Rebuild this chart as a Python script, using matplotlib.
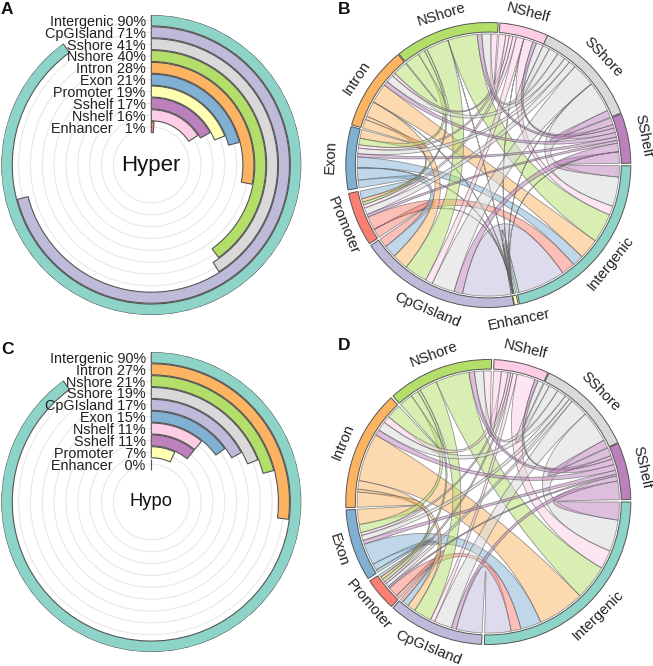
import numpy as np
import matplotlib
matplotlib.use("Agg")
import matplotlib.pyplot as plt
from matplotlib.path import Path
from matplotlib.patches import PathPatch, Wedge

plt.rcParams["font.family"] = ["Liberation Sans", "DejaVu Sans"]

W, H = 653, 666

bar_colors = {"Intergenic": "#8DD3C7", "CpGIsland": "#BEBADA", "Sshore": "#D9D9D9", "Nshore": "#B3DE69",
              "Intron": "#FDB462", "Exon": "#80B1D3", "Promoter": "#FFFFB3", "Sshelf": "#BC80BD",
              "Nshelf": "#FCCDE5", "Enhancer": "#FB8072"}
chord_colors = {"Intergenic": "#8DD3C7", "CpGIsland": "#BEBADA", "SShore": "#D9D9D9", "NShore": "#B3DE69",
                "Intron": "#FDB462", "Exon": "#80B1D3", "Promoter": "#FB8072", "SShelf": "#BC80BD",
                "NShelf": "#FCCDE5", "Enhancer": "#FFFFB3"}

# bar panels
names_a = ["Intergenic", "CpGIsland", "Sshore", "Nshore", "Intron", "Exon", "Promoter", "Sshelf", "Nshelf", "Enhancer"]
values_a = [90, 71, 41, 40, 28, 21, 19, 17, 16, 1]
names_c = ["Intergenic", "Intron", "Nshore", "Sshore", "CpGIsland", "Exon", "Nshelf", "Sshelf", "Promoter", "Enhancer"]
values_c = [90, 27, 21, 19, 17, 15, 11, 11, 7, 0]

# chord panels, sectors listed clockwise: name, start angle, span (degrees)
sectors_b = [("NShelf", 85.3, 20.0), ("SShore", 65.4, 44.0), ("SShelf", 21.0, 20.3), ("Intergenic", -0.3, 77.0),
             ("Enhancer", -77.9, 1.5), ("CpGIsland", -79.7, 65.9), ("Promoter", -146.5, 22.0),
             ("Exon", -169.9, 25.8), ("Intron", 163.6, 34.4), ("NShore", 128.8, 42.8)]
links_b = [("Intergenic", "Enhancer", 0.9), ("Intergenic", "CpGIsland", 21), ("Intergenic", "Promoter", 6),
           ("Intergenic", "Exon", 5), ("Intergenic", "Intron", 9), ("Intergenic", "NShore", 13),
           ("Intergenic", "NShelf", 4), ("Intergenic", "SShore", 13), ("Intergenic", "SShelf", 5),
           ("Enhancer", "CpGIsland", 0.2), ("Enhancer", "Promoter", 0.05), ("Enhancer", "Exon", 0.05),
           ("Enhancer", "Intron", 0.05), ("Enhancer", "NShore", 0.05), ("Enhancer", "NShelf", 0.05),
           ("Enhancer", "SShore", 0.05), ("Enhancer", "SShelf", 0.05),
           ("CpGIsland", "Promoter", 4), ("CpGIsland", "Exon", 5.5), ("CpGIsland", "Intron", 7),
           ("CpGIsland", "NShore", 10), ("CpGIsland", "NShelf", 3.2), ("CpGIsland", "SShore", 10),
           ("CpGIsland", "SShelf", 3.7),
           ("Promoter", "Exon", 3.5), ("Promoter", "Intron", 1.5), ("Promoter", "NShore", 1.2),
           ("Promoter", "NShelf", 1.5), ("Promoter", "SShore", 3), ("Promoter", "SShelf", 1.2),
           ("Exon", "Intron", 4), ("Exon", "NShore", 3), ("Exon", "NShelf", 1.5), ("Exon", "SShore", 2.5),
           ("Exon", "SShelf", 1.5),
           ("Intron", "NShore", 6.5), ("Intron", "NShelf", 1.5), ("Intron", "SShore", 3.5), ("Intron", "SShelf", 2),
           ("NShore", "NShelf", 2.8), ("NShore", "SShore", 4), ("NShore", "SShelf", 2),
           ("NShelf", "SShore", 3), ("NShelf", "SShelf", 1.5), ("SShore", "SShelf", 3)]

sectors_d = [("NShelf", 87.7, 22.5), ("SShore", 64.8, 40.2), ("SShelf", 24.3, 23.3), ("Intergenic", 0.0, 91.6),
             ("CpGIsland", -92.7, 39.3), ("Promoter", -132.8, 13.5), ("Exon", -147.5, 29.3),
             ("Intron", -177.7, 49.3), ("NShore", 132.0, 43.3)]
links_d = [("Intergenic", "CpGIsland", 11.7), ("Intergenic", "Promoter", 4.4), ("Intergenic", "Exon", 9.2),
           ("Intergenic", "Intron", 20.8), ("Intergenic", "NShore", 15.5), ("Intergenic", "NShelf", 8.3),
           ("Intergenic", "SShore", 14), ("Intergenic", "SShelf", 8),
           ("CpGIsland", "Promoter", 1.5), ("CpGIsland", "Exon", 2.8), ("CpGIsland", "Intron", 3.7),
           ("CpGIsland", "NShore", 8.2), ("CpGIsland", "NShelf", 2), ("CpGIsland", "SShore", 8),
           ("CpGIsland", "SShelf", 2.2),
           ("Promoter", "Exon", 1.2), ("Promoter", "Intron", 1.2), ("Promoter", "NShore", 1.3),
           ("Promoter", "NShelf", 1), ("Promoter", "SShore", 1.5), ("Promoter", "SShelf", 0.8),
           ("Exon", "Intron", 6.5), ("Exon", "NShore", 3.5), ("Exon", "NShelf", 1.2), ("Exon", "SShore", 2.2),
           ("Exon", "SShelf", 1.7),
           ("Intron", "NShore", 6.3), ("Intron", "NShelf", 3), ("Intron", "SShore", 4), ("Intron", "SShelf", 2.5),
           ("NShore", "NShelf", 3.5), ("NShore", "SShore", 4.2), ("NShore", "SShelf", 2.5),
           ("NShelf", "SShore", 2.5), ("NShelf", "SShelf", 1.5), ("SShore", "SShelf", 3.5)]

# a link takes the colour of whichever end comes later here
color_rank = ["Enhancer", "Intergenic", "CpGIsland", "Promoter", "Exon", "Intron", "NShore", "NShelf", "SShore", "SShelf"]

edge = (0.38, 0.38, 0.38, 0.65)


def box(cx, cy, r):
    return [(cx - r) / W, 1 - (cy + r) / H, 2 * r / W, 2 * r / H]


def bar_panel(fig, cx, cy, names, values, title, title_size):
    ax = fig.add_axes(box(cx, cy, 150), projection="polar")
    ax.patch.set_alpha(0)
    ax.set_theta_zero_location("N")
    ax.set_theta_direction(-1)
    k = np.arange(len(names))[::-1]
    ax.barh(k, np.radians(np.array(values) * 3.6), left=0, height=0.93,
            color=[bar_colors[n] for n in names], edgecolor="#555555", linewidth=0.8, zorder=3)
    ax.set_ylim(-3.2, 9.46)
    ax.set_xlim(0, 2 * np.pi)
    ax.set_xticks([])
    ax.set_yticks(range(10))
    ax.set_yticklabels([])
    ax.tick_params(length=0)
    ax.yaxis.grid(True, color="#e8e8e8", linewidth=0.8)
    ax.spines["polar"].set_visible(False)
    for n, v, y in zip(names, values, k):
        pad = "   " if v < 10 else " "
        ax.annotate(f"{n}{pad}{v}%", (0, y), xytext=(-5.6, 0), textcoords="offset pixels", ha="right",
                    va="center_baseline", fontsize=10.4, color="#222222", zorder=5, annotation_clip=False)
    ax.text(0, -3.2, title, ha="center", va="center", fontsize=title_size, color="#111111", zorder=5)


def arc(a0, a1, r, n=30):
    t = np.radians(np.linspace(a0, a1, n))
    return np.column_stack([r * np.cos(t), r * np.sin(t)])


def chord_panel(fig, cx, cy, sectors, links):
    ax = fig.add_axes(box(cx, cy, 170))
    ax.set_xlim(-170 / 142.5, 170 / 142.5)
    ax.set_ylim(-170 / 142.5, 170 / 142.5)
    ax.axis("off")
    order = [s[0] for s in sectors]
    n = len(order)
    width = {(a, b): v for a, b, v in links}
    width.update({(b, a): v for a, b, v in links})
    ends = {}
    for i, (name, start, span) in enumerate(sectors):
        # clockwise along the sector the partners run counter-clockwise round the circle
        partners = [order[(i - j) % n] for j in range(1, n)]
        partners = [p for p in partners if (name, p) in width]
        scale = span / sum(width[(name, p)] for p in partners)
        pos = start
        for p in partners:
            w = width[(name, p)] * scale
            ends[(name, p)] = (pos, pos - w)
            pos -= w
        ax.add_patch(Wedge((0, 0), 1.0, start - span, start, width=1 - 0.933, facecolor=chord_colors[name],
                           edgecolor="#555555", linewidth=0.7))
        mid = start - span / 2
        mm = (mid + 180) % 360 - 180
        rot = mm - 90 if mm >= 0 else mm + 90
        t = np.radians(mid)
        ax.text(1.105 * np.cos(t), 1.105 * np.sin(t), name, rotation=rot, rotation_mode="anchor", ha="center",
                va="center", fontsize=10.6, color="#222222")
    r = 0.92
    for a, b, v in links:
        a0, a1 = ends[(a, b)]
        b0, b1 = ends[(b, a)]
        pa = arc(a0, a1, r)
        pb = arc(b0, b1, r)
        verts = list(pa) + [(0, 0), pb[0]] + list(pb[1:]) + [(0, 0), pa[0]]
        codes = [Path.MOVETO] + [Path.LINETO] * (len(pa) - 1) + [Path.CURVE3, Path.CURVE3] \
            + [Path.LINETO] * (len(pb) - 1) + [Path.CURVE3, Path.CURVE3]
        color = chord_colors[max(a, b, key=color_rank.index)]
        ax.add_patch(PathPatch(Path(verts, codes), facecolor=matplotlib.colors.to_rgba(color, 0.5),
                               edgecolor=edge, linewidth=0.6))


fig = plt.figure(figsize=(W / 100, H / 100), dpi=100)

bar_panel(fig, 151.3, 165, names_a, values_a, "Hyper", 16)
bar_panel(fig, 151.3, 502, names_c, values_c, "Hypo", 13.2)
chord_panel(fig, 488.3, 165, sectors_b, links_b)
chord_panel(fig, 488.3, 502, sectors_d, links_d)

for label, x, y in [("A", 1, 10), ("B", 338, 9), ("C", 1, 350), ("D", 338, 346)]:
    fig.text(x / W, 1 - y / H, label, fontsize=12.5, fontweight="bold", va="center", color="#111111")

fig.savefig("out.png", dpi=100)
